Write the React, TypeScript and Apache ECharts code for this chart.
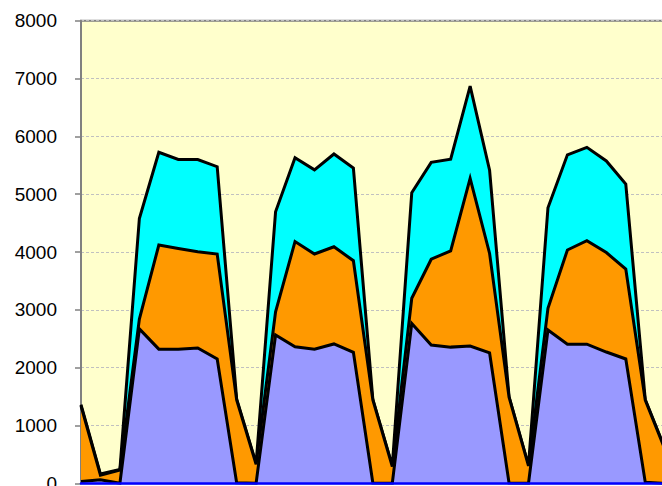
import React, { useEffect, useRef } from "react";
import * as echarts from "echarts";

const categories = [
  "1", "2", "3", "4", "5", "6", "7", "8", "9", "10", "11", "12", "13", "14", "15", "16",
  "17", "18", "19", "20", "21", "22", "23", "24", "25", "26", "27", "28", "29", "30", "31",
];

const seriesBlue = [
  30, 60, 0, 2670, 2320, 2320, 2340, 2150, 10, 0, 2565, 2360, 2320, 2410, 2265, 5, 0,
  2765, 2390, 2355, 2375, 2255, 5, 0, 2650, 2405, 2405, 2270, 2150, 20, 0,
];
const seriesOrange = [
  1310, 80, 230, 170, 1800, 1740, 1665, 1815, 1430, 330, 400, 1820, 1645, 1680, 1585, 1435, 290,
  435, 1485, 1665, 2900, 1720, 1485, 300, 375, 1630, 1790, 1720, 1555, 1420, 600,
];
const seriesCyan = [
  20, 20, 10, 1740, 1605, 1540, 1595, 1510, 20, 10, 1730, 1450, 1455, 1605, 1600, 10, 10,
  1825, 1675, 1585, 1595, 1440, 10, 10, 1740, 1645, 1615, 1585, 1470, 10, 10,
];

const yMin = 0;
const yMax = 8000;
const yInterval = 1000;

export default function App() {
  const ref = useRef<HTMLDivElement>(null);
  useEffect(() => {
    if (!ref.current) return;
    const chart = echarts.init(ref.current, undefined, { renderer: "svg" });
    const mk = (name: string, data: number[], color: string, z: number) => ({
      name,
      type: "line",
      stack: "total",
      data,
      z,
      showSymbol: false,
      symbol: "none",
      lineStyle: { color: "#000000", width: 3, join: "miter" },
      areaStyle: { color, opacity: 1 },
    });
    chart.setOption({
      animation: false,
      backgroundColor: "#FFFFFF",
      grid: {
        left: 81,
        top: 20.7,
        right: -2.7,
        bottom: 2.7,
        show: true,
        backgroundColor: "#FFFFCC",
        borderColor: "#808080",
        borderWidth: 2,
        containLabel: false,
        outerBoundsMode: "none",
      },
      xAxis: {
        type: "category",
        data: categories,
        boundaryGap: false,
        axisLine: { show: true, lineStyle: { color: "#0000FF", width: 2.5 } },
        axisTick: { show: false },
        axisLabel: { show: false },
        splitLine: { show: false },
        z: 10,
      },
      yAxis: {
        type: "value",
        min: yMin,
        max: yMax,
        interval: yInterval,
        axisLine: { show: true, lineStyle: { color: "#808080", width: 2 } },
        axisTick: { show: true, length: 6, lineStyle: { color: "#808080", width: 1.5 } },
        axisLabel: {
          color: "#000000",
          fontFamily: "Liberation Sans, Arial, sans-serif",
          fontSize: 19,
          margin: 24,
          formatter: (v: number) => String(v),
        },
        splitLine: { show: true, lineStyle: { color: "#C0C0C0", width: 1, type: [3, 2] } },
      },
      series: [
        mk("Blue", seriesBlue, "#9999FF", 4),
        mk("Orange", seriesOrange, "#FF9900", 3),
        mk("Cyan", seriesCyan, "#00FFFF", 2),
      ],
    });
    return () => chart.dispose();
  }, []);
  return (
    <div
      ref={ref}
      style={{ position: "fixed", left: 0, top: 0, width: 662, height: 486 }}
    />
  );
}
